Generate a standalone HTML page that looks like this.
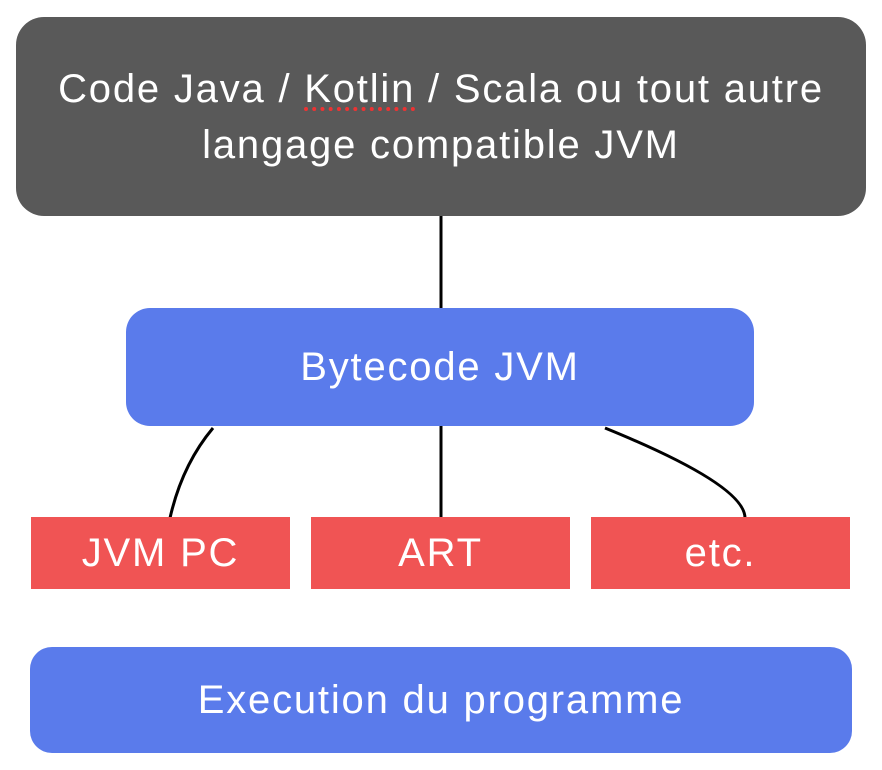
<!DOCTYPE html>
<html><head><meta charset="utf-8"><style>
body{margin:0;width:882px;height:770px;background:#fff;position:relative;font-family:"Liberation Sans",sans-serif;overflow:hidden}
.b{position:absolute;color:#fff;display:flex;align-items:center;justify-content:center;text-align:center;font-size:40px;letter-spacing:1.8px}
.k{text-decoration:underline dotted #e33;text-underline-offset:6px}
</style></head><body>
<svg width="882" height="770" style="position:absolute;left:0;top:0">
<g stroke="#000" stroke-width="3" fill="none">
<line x1="441" y1="214" x2="441" y2="310"/>
<line x1="441" y1="424" x2="441" y2="519"/>
<path d="M213 428 Q182 465 170 518"/>
<path d="M605 428 Q745 485 745 518"/>
</g></svg>
<div class="b" style="left:16px;top:17px;width:850px;height:199px;border-radius:28px;background:#595959;line-height:56px"><div>Code Java / <span class="k">Kotlin</span> / Scala ou tout autre<br>langage compatible JVM</div></div>
<div class="b" style="left:126px;top:308px;width:628px;height:118px;border-radius:24px;background:#5A7BEB">Bytecode JVM</div>
<div class="b" style="left:31px;top:517px;width:259px;height:72px;background:#F05454">JVM PC</div>
<div class="b" style="left:311px;top:517px;width:259px;height:72px;background:#F05454">ART</div>
<div class="b" style="left:591px;top:517px;width:259px;height:72px;background:#F05454">etc.</div>
<div class="b" style="left:30px;top:647px;width:822px;height:106px;border-radius:22px;background:#5A7BEB">Execution du programme</div>
</body></html>
